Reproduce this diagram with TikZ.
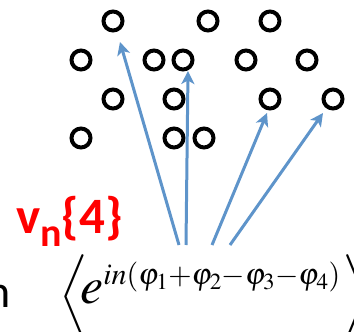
\documentclass[tikz,border=0pt]{standalone}
\usepackage{amssymb, amsmath}
\usepackage{mathptmx}
\usepackage[no-math]{fontspec}
\newfontfamily\carlito{Carlito}
\DeclareMathSizes{52}{52}{30}{23}
\DeclareMathSizes{47}{47}{33}{24}
\usetikzlibrary{arrows.meta}
\definecolor{flowblue}{RGB}{94, 148, 202}
\definecolor{vnred}{RGB}{255, 0, 0}

\tikzset{
  particle/.style={circle, draw=black, line width=4pt, minimum size=19pt, inner sep=0pt},
  flow/.style={-{Stealth[length=13pt, width=13pt, inset=3.5pt]}, flowblue, line width=3pt},
  bracket/.style={inner sep=0pt, font=\fontsize{47}{47}\selectfont},
}

\begin{document}
\begin{tikzpicture}[x=1pt, y=-1pt]

  \useasboundingbox (0, 0) rectangle (354, 332);
  \clip (0, 0) rectangle (354, 332);

  % particles
  \node[particle] (p11) at (113, 21) {};
  \node[particle] (p12) at (208, 21) {};
  \node[particle] (p13) at (270, 21) {};

  \node[particle] (p21) at (81, 60) {};
  \node[particle] (p22) at (154, 60) {};
  \node[particle] (p23) at (183, 60) {};
  \node[particle] (p24) at (246, 60) {};
  \node[particle] (p25) at (307, 60) {};

  \node[particle] (p31) at (113, 99) {};
  \node[particle] (p32) at (174, 99) {};
  \node[particle] (p33) at (270, 99) {};
  \node[particle] (p34) at (333, 99) {};

  \node[particle] (p41) at (81, 138) {};
  \node[particle] (p42) at (174, 138) {};
  \node[particle] (p43) at (204, 138) {};

  % arrows from the correlator
  \coordinate (base1) at (179, 245);
  \coordinate (base2) at (186, 245);
  \coordinate (base3) at (212, 245);
  \coordinate (base4) at (230, 245);
  \coordinate (tip1) at (120, 42);
  \coordinate (tip2) at (188, 71);
  \coordinate (tip3) at (267, 113);
  \coordinate (tip4) at (323, 113);

  \draw[flow] (base1) -- (tip1);
  \draw[flow] (base2) -- (tip2);
  \draw[flow] (base3) -- (tip3);
  \draw[flow] (base4) -- (tip4);

  \node[anchor=base west, inner sep=0pt, text=vnred] (vn) at (16, 233) {%
    \carlito\bfseries\fontsize{51}{51}\selectfont
    v\raisebox{-13pt}{\fontsize{40}{40}\selectfont n}\{4\}};

  \node[anchor=base east, inner sep=0pt] (cut) at (11, 307) {%
    \carlito\fontsize{46}{46}\selectfont n};

  \node[bracket, anchor=west] (lang) at (59, 297) {%
    $\left\langle\vcenter{\hbox{\rule{0pt}{84pt}}}\right.$};
  \node[bracket, anchor=west] (rang) at (341, 297) {%
    $\left.\vcenter{\hbox{\rule{0pt}{84pt}}}\right\rangle$};

  \node[anchor=base west, inner sep=0pt] (corr) at (80, 303) {%
    \fontsize{52}{52}\selectfont
    $e^{in(\varphi_1+\varphi_2-\varphi_3-\varphi_4)}$};

\end{tikzpicture}
\end{document}
